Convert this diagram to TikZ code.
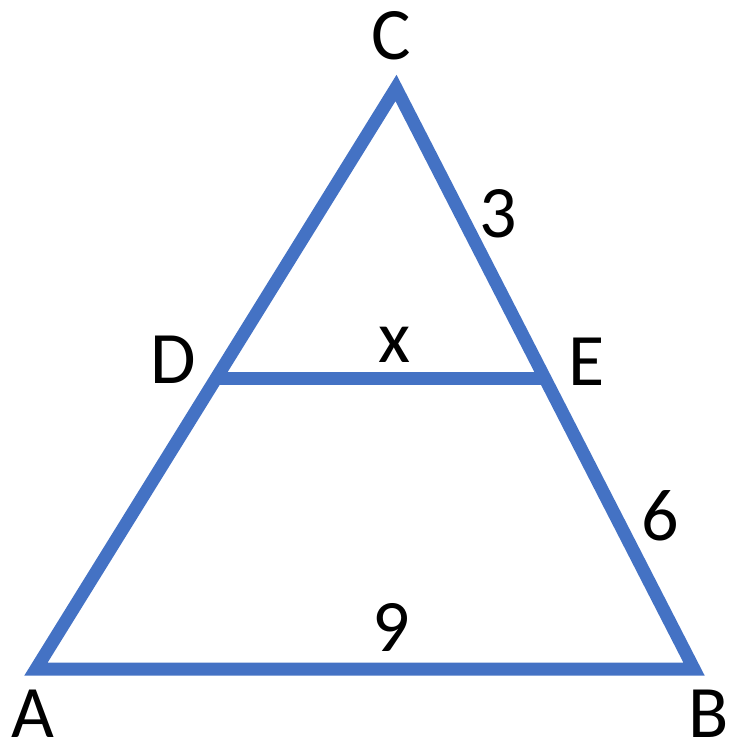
\documentclass[tikz,border=0pt]{standalone}
\usepackage{fontspec}
\setmainfont{Carlito}
\definecolor{triblue}{HTML}{4472C4}
\begin{document}
\begin{tikzpicture}[x=1pt,y=-1pt,
  side/.style={draw=triblue,line width=13pt,line join=miter},
  lbl/.style={inner sep=0pt,font=\fontsize{74}{80}\selectfont}]
\useasboundingbox (0,0) rectangle (731,747);
\coordinate (A) at (36,669);
\coordinate (B) at (694,669);
\coordinate (C) at (396,88);
\coordinate (D) at (216,378);
\coordinate (E) at (545,378);
\draw[side] (A) -- (B) -- (C) -- cycle;
\draw[side] (D) -- (E);
\node[lbl] (lC) at (391,36) {C};
\node[lbl] (lA) at (33,714) {A};
\node[lbl] (lB) at (709,714) {B};
\node[lbl] (lD) at (173,360) {D};
\node[lbl] (lE) at (587,362) {E};
\node[lbl] (lx) at (395,345) {x};
\node[lbl] (l3) at (498,214) {3};
\node[lbl] (l6) at (660,516) {6};
\node[lbl] (l9) at (391,627) {9};
\end{tikzpicture}
\end{document}
